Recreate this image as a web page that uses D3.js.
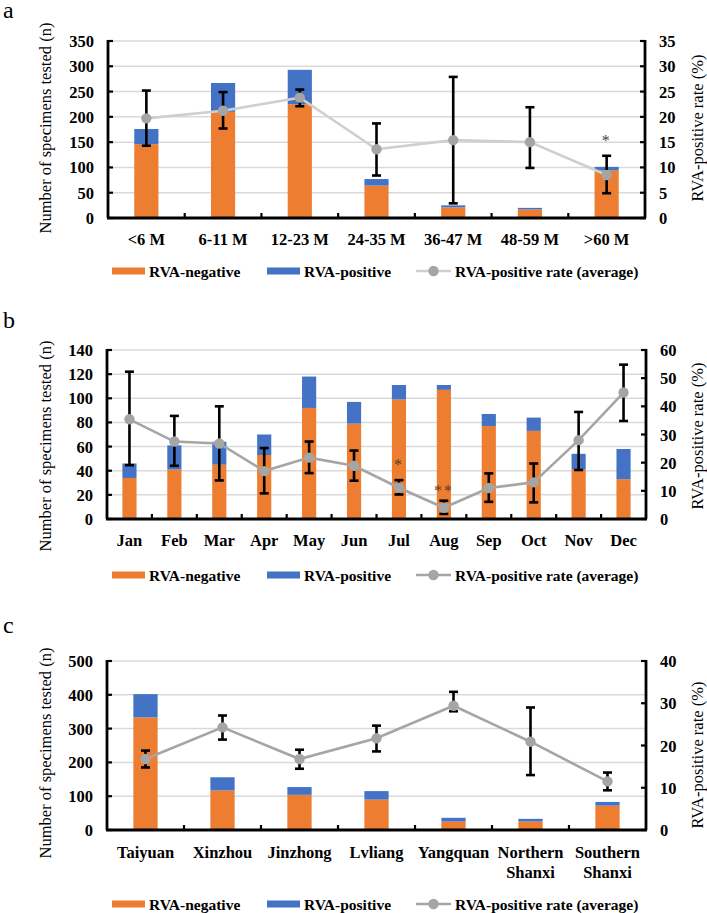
<!DOCTYPE html>
<html>
<head>
<meta charset="utf-8">
<script src="https://cdn.jsdelivr.net/npm/d3@7"></script>
<style>
  html, body { margin: 0; padding: 0; background: #fff; }
  svg { display: block; }
</style>
</head>
<body>
<svg id="chart" width="707" height="913"></svg>
<script>
// ---------- Panel a: age groups ----------
const ageCats = ["<6 M", "6-11 M", "12-23 M", "24-35 M", "36-47 M", "48-59 M", ">60 M"];
const ageNeg = [146, 210, 225, 64, 21, 17, 94];
const agePos = [30, 57, 68, 13, 4, 3, 7];
const ageRate = [19.7, 21.2, 23.8, 13.6, 15.4, 15.0, 8.5];
const ageLow = [14.3, 17.7, 22.1, 8.4, 2.9, 9.9, 4.9];
const ageHigh = [25.2, 24.9, 25.4, 18.7, 27.9, 21.9, 12.3];
const ageStars = ["", "", "", "", "", "", "*"];
const ageLeftTicks = [0, 50, 100, 150, 200, 250, 300, 350];
const ageRightTicks = [0, 5, 10, 15, 20, 25, 30, 35];

// ---------- Panel b: months ----------
const monthCats = ["Jan", "Feb", "Mar", "Apr", "May", "Jun", "Jul", "Aug", "Sep", "Oct", "Nov", "Dec"];
const monthNeg = [34, 41, 45, 53, 92, 79, 99, 107, 77, 73, 41, 33];
const monthPos = [12, 20, 19, 17, 26, 18, 12, 4, 10, 11, 13, 25];
const monthRate = [35.4, 27.5, 26.8, 17.0, 21.8, 18.9, 11.1, 4.0, 11.0, 13.0, 28.0, 44.9];
const monthLow = [19.1, 18.9, 13.7, 9.1, 16.3, 13.6, 8.7, 1.8, 6.1, 5.9, 17.4, 34.8];
const monthHigh = [52.3, 36.6, 40.0, 25.2, 27.5, 24.3, 13.8, 6.5, 16.2, 19.7, 38.0, 54.8];
const monthStars = ["", "", "", "", "", "", "*", "**", "", "", "", ""];
const monthLeftTicks = [0, 20, 40, 60, 80, 100, 120, 140];
const monthRightTicks = [0, 10, 20, 30, 40, 50, 60];

// ---------- Panel c: regions ----------
const regionCats = ["Taiyuan", "Xinzhou", "Jinzhong", "Lvliang", "Yangquan", "Northern Shanxi", "Southern Shanxi"];
const regionNeg = [333, 117, 104, 90, 25, 25, 72];
const regionPos = [69, 39, 23, 25, 11, 8, 11];
const regionRate = [16.8, 24.3, 16.8, 21.7, 29.4, 20.9, 11.5];
const regionLow = [14.8, 21.4, 14.5, 18.6, 28.1, 13.0, 9.4];
const regionHigh = [18.8, 27.1, 19.0, 24.7, 32.7, 29.0, 13.6];
const regionStars = ["", "", "", "", "", "", ""];
const regionLeftTicks = [0, 100, 200, 300, 400, 500];
const regionRightTicks = [0, 10, 20, 30, 40];

const seriesNames = ["RVA-negative", "RVA-positive", "RVA-positive rate (average)"];
const leftTitle = "Number of specimens tested (n)";
const rightTitle = "RVA-positive rate (%)";

const ORANGE = "#ED7D31", BLUE = "#4472C4", DOT = "#A5A5A5", GRID = "#D9D9D9";
const svg = d3.select("#chart");

function drawPanel(o) {
  const g = svg.append("g");
  const x = d3.scaleBand().domain(o.cats).range([o.x0, o.x1]).paddingInner(0.685).paddingOuter(0.3425);
  const step = (o.x1 - o.x0) / o.cats.length;
  const yL = d3.scaleLinear().domain([0, d3.max(o.leftTicks)]).range([o.yB, o.yT]);
  const yR = d3.scaleLinear().domain([0, d3.max(o.rightTicks)]).range([o.yB, o.yT]);

  // panel letter
  g.append("text").attr("x", 3).attr("y", o.letterY).attr("font-size", 24).text(o.letter);

  // gridlines
  g.selectAll(".grid").data(o.leftTicks.filter(t => t > 0)).enter().append("line")
    .attr("x1", o.x0).attr("x2", o.x1).attr("y1", d => yL(d)).attr("y2", d => yL(d))
    .attr("stroke", GRID).attr("stroke-width", 1.5);

  // bars
  const data = o.cats.map((c, i) => ({ c, neg: o.neg[i], pos: o.pos[i], rate: o.rate[i], lo: o.low[i], hi: o.high[i], star: o.stars[i] }));
  g.selectAll(".neg").data(data).enter().append("rect")
    .attr("x", d => x(d.c)).attr("width", x.bandwidth())
    .attr("y", d => yL(d.neg)).attr("height", d => yL(0) - yL(d.neg)).attr("fill", ORANGE);
  g.selectAll(".pos").data(data).enter().append("rect")
    .attr("x", d => x(d.c)).attr("width", x.bandwidth())
    .attr("y", d => yL(d.neg + d.pos)).attr("height", d => yL(d.neg) - yL(d.neg + d.pos)).attr("fill", BLUE);

  const cx = d => x(d.c) + x.bandwidth() / 2;

  // rate line
  g.append("path").datum(data)
    .attr("d", d3.line().x(cx).y(d => yR(d.rate)))
    .attr("fill", "none").attr("stroke", o.lineColor).attr("stroke-width", 2.6);

  // error bars
  const eb = g.selectAll(".eb").data(data).enter().append("g");
  eb.append("line").attr("x1", cx).attr("x2", cx).attr("y1", d => yR(d.lo)).attr("y2", d => yR(d.hi))
    .attr("stroke", "#000").attr("stroke-width", 2.6);
  eb.append("line").attr("x1", d => cx(d) - 4.5).attr("x2", d => cx(d) + 4.5).attr("y1", d => yR(d.lo)).attr("y2", d => yR(d.lo))
    .attr("stroke", "#000").attr("stroke-width", 2.6);
  eb.append("line").attr("x1", d => cx(d) - 4.5).attr("x2", d => cx(d) + 4.5).attr("y1", d => yR(d.hi)).attr("y2", d => yR(d.hi))
    .attr("stroke", "#000").attr("stroke-width", 2.6);

  // dots
  g.selectAll(".dot").data(data).enter().append("circle")
    .attr("cx", cx).attr("cy", d => yR(d.rate)).attr("r", 5.2).attr("fill", DOT);

  // significance stars
  g.selectAll(".star").data(data.filter(d => d.star)).enter().append("text")
    .attr("x", cx).attr("y", d => yR(d.hi) - (d.star.length > 1 ? 5 : 10)).attr("text-anchor", "middle")
    .attr("font-size", 16).attr("fill", o.starColor).attr("letter-spacing", 2).text(d => d.star);

  // axes lines
  const AX = 2.8;
  g.append("line").attr("x1", o.x0).attr("x2", o.x0).attr("y1", o.yT - 1).attr("y2", o.yB).attr("stroke", "#000").attr("stroke-width", AX);
  g.append("line").attr("x1", o.x1).attr("x2", o.x1).attr("y1", o.yT - 1).attr("y2", o.yB).attr("stroke", "#000").attr("stroke-width", AX);
  g.append("line").attr("x1", o.x0 - 1).attr("x2", o.x1 + 1).attr("y1", o.yB).attr("y2", o.yB).attr("stroke", "#000").attr("stroke-width", AX);

  // inward ticks
  g.selectAll(".lt").data(o.leftTicks).enter().append("line")
    .attr("x1", o.x0).attr("x2", o.x0 + 5).attr("y1", d => yL(d)).attr("y2", d => yL(d)).attr("stroke", "#000").attr("stroke-width", 2.2);
  g.selectAll(".rt").data(o.rightTicks).enter().append("line")
    .attr("x1", o.x1 - 5).attr("x2", o.x1).attr("y1", d => yR(d)).attr("y2", d => yR(d)).attr("stroke", "#000").attr("stroke-width", 2.2);
  g.selectAll(".bt").data(d3.range(1, o.cats.length)).enter().append("line")
    .attr("x1", d => o.x0 + d * step).attr("x2", d => o.x0 + d * step).attr("y1", o.yB).attr("y2", o.yB - 5)
    .attr("stroke", "#000").attr("stroke-width", 2.2);

  // tick labels
  g.selectAll(".ll").data(o.leftTicks).enter().append("text")
    .attr("x", o.x0 - 14).attr("y", d => yL(d) + 6).attr("text-anchor", "end")
    .attr("font-size", 16.5).attr("font-weight", "bold").text(d => d);
  g.selectAll(".rl").data(o.rightTicks).enter().append("text")
    .attr("x", o.x1 + 14).attr("y", d => yR(d) + 6).attr("text-anchor", "start")
    .attr("font-size", 16.5).attr("font-weight", "bold").text(d => d);

  // category labels
  const cl = g.selectAll(".cl").data(data).enter().append("text")
    .attr("text-anchor", "middle").attr("font-size", 16.5).attr("font-weight", "bold");
  cl.each(function (d) {
    const words = o.wrap && d.c.includes(" ") ? d.c.split(" ") : [d.c];
    const t = d3.select(this);
    words.forEach((w, k) => {
      t.append("tspan").attr("x", cx(d)).attr("y", o.catY + k * 20).text(w);
    });
  });

  // axis titles
  g.append("text").attr("transform", `translate(${o.ltX},${o.ltY}) rotate(-90)`)
    .attr("text-anchor", "middle").attr("font-size", 16.5).text(leftTitle);
  g.append("text").attr("transform", `translate(${o.rtX},${o.rtY}) rotate(-90)`)
    .attr("text-anchor", "middle").attr("font-size", 16.5).text(rightTitle);

  // legend
  const ly = o.legY;
  const lg = g.append("g");
  lg.append("rect").attr("x", 112).attr("y", ly - 3.5).attr("width", 33).attr("height", 7).attr("fill", ORANGE);
  lg.append("text").attr("x", 149).attr("y", ly + 5.5).text(seriesNames[0]);
  lg.append("rect").attr("x", 267).attr("y", ly - 3.5).attr("width", 33).attr("height", 7).attr("fill", BLUE);
  lg.append("text").attr("x", 304).attr("y", ly + 5.5).text(seriesNames[1]);
  lg.append("line").attr("x1", 416).attr("x2", 451).attr("y1", ly).attr("y2", ly).attr("stroke", o.lineColor).attr("stroke-width", 2.6);
  lg.append("circle").attr("cx", 433.5).attr("cy", ly).attr("r", 5.2).attr("fill", DOT);
  lg.append("text").attr("x", 455).attr("y", ly + 5.5).text(seriesNames[2]);
  lg.selectAll("text").attr("font-size", 15.5).attr("font-weight", "bold");
}

drawPanel({
  letter: "a", letterY: 18,
  cats: ageCats, neg: ageNeg, pos: agePos, rate: ageRate, low: ageLow, high: ageHigh, stars: ageStars,
  leftTicks: ageLeftTicks, rightTicks: ageRightTicks,
  x0: 108, x1: 645, yT: 41, yB: 218,
  catY: 245, legY: 271, ltX: 51, ltY: 128, rtX: 703, rtY: 128,
  lineColor: "#CFCFCF", starColor: "#444"
});
drawPanel({
  letter: "b", letterY: 328,
  cats: monthCats, neg: monthNeg, pos: monthPos, rate: monthRate, low: monthLow, high: monthHigh, stars: monthStars,
  leftTicks: monthLeftTicks, rightTicks: monthRightTicks,
  x0: 107, x1: 646, yT: 350, yB: 519,
  catY: 546, legY: 575, ltX: 51, ltY: 446, rtX: 703, rtY: 436,
  lineColor: "#A5A5A5", starColor: "#5a3a20"
});
drawPanel({
  letter: "c", letterY: 633,
  cats: regionCats, neg: regionNeg, pos: regionPos, rate: regionRate, low: regionLow, high: regionHigh, stars: regionStars,
  leftTicks: regionLeftTicks, rightTicks: regionRightTicks, wrap: true,
  x0: 107, x1: 646, yT: 661, yB: 830,
  catY: 858, legY: 904, ltX: 51, ltY: 753, rtX: 703, rtY: 755,
  lineColor: "#A5A5A5", starColor: "#444"
});

// apply the serif face inline on every text (matches the Times-style reference)
svg.selectAll("text").style("font-family", '"Liberation Serif", "Times New Roman", serif');
</script>
</body>
</html>
